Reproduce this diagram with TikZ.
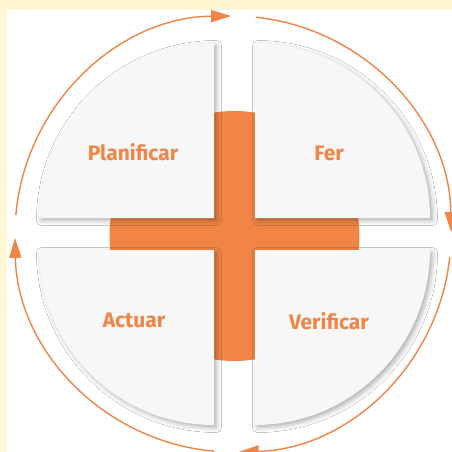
\documentclass[tikz,border=0pt]{standalone}
\usepackage{fontspec}
\setmainfont{Fira Sans}
\usetikzlibrary{arrows.meta,shadows.blur}
\definecolor{pdcaorange}{RGB}{240,133,70}
\definecolor{pdcacream}{RGB}{255,247,212}
\definecolor{pdcapanel}{RGB}{247,247,247}
\tikzset{
  panel/.style={fill=pdcapanel, draw=none,
    blur shadow={shadow xshift=2.5pt, shadow yshift=-2.5pt,
                 shadow blur radius=5pt, shadow opacity=32}},
  label/.style={text=pdcaorange, font=\fontsize{21}{25}\selectfont\bfseries},
  cycle arc/.style={draw=pdcaorange, line width=1.4pt,
    -{Triangle[length=20pt,width=12pt]}}
}
\begin{document}
\begin{tikzpicture}[x=1pt,y=-1pt]
  % page and white card
  \fill[pdcacream] (0,0) rectangle (452,452);
  \fill[white] (7,10) rectangle (452,452);
  \useasboundingbox (0,0) rectangle (452,452);

  % orange cross, cut to a circle
  \begin{scope}
    \clip (234.5,236) circle[radius=125];
    \fill[pdcaorange] (214,100) rectangle (255,380);
    \fill[pdcaorange] (100,218) rectangle (370,251);
  \end{scope}

  % four quarter-disc panels
  \fill[panel] (214,218) -- (214,43) arc[start angle=270, end angle=180, radius=175] -- cycle;
  \fill[panel] (255,218) -- (255,43) arc[start angle=270, end angle=360, radius=175] -- cycle;
  \fill[panel] (214,250) -- (214,425) arc[start angle=90, end angle=180, radius=175] -- cycle;
  \fill[panel] (255,250) -- (255,425) arc[start angle=90, end angle=0, radius=175] -- cycle;

  % labels
  \node[label] (plan) at (133,152) {Planificar};
  \node[label] (fer)  at (329,153) {Fer};
  \node[label] (act)  at (134,320) {Actuar};
  \node[label] (ver)  at (329,321) {Verificar};

  % surrounding cycle of arrows
  \coordinate (c) at (233,234);
  \draw[cycle arc] (c) ++(276:218) arc[start angle=276, end angle=359.5, radius=218];
  \draw[cycle arc] (c) ++(6:218)   arc[start angle=6,   end angle=88.5,  radius=218];
  \draw[cycle arc] (c) ++(95:218)  arc[start angle=95,  end angle=179,   radius=218];
  \draw[cycle arc] (c) ++(185:218) arc[start angle=185, end angle=269.5, radius=218];
\end{tikzpicture}
\end{document}
